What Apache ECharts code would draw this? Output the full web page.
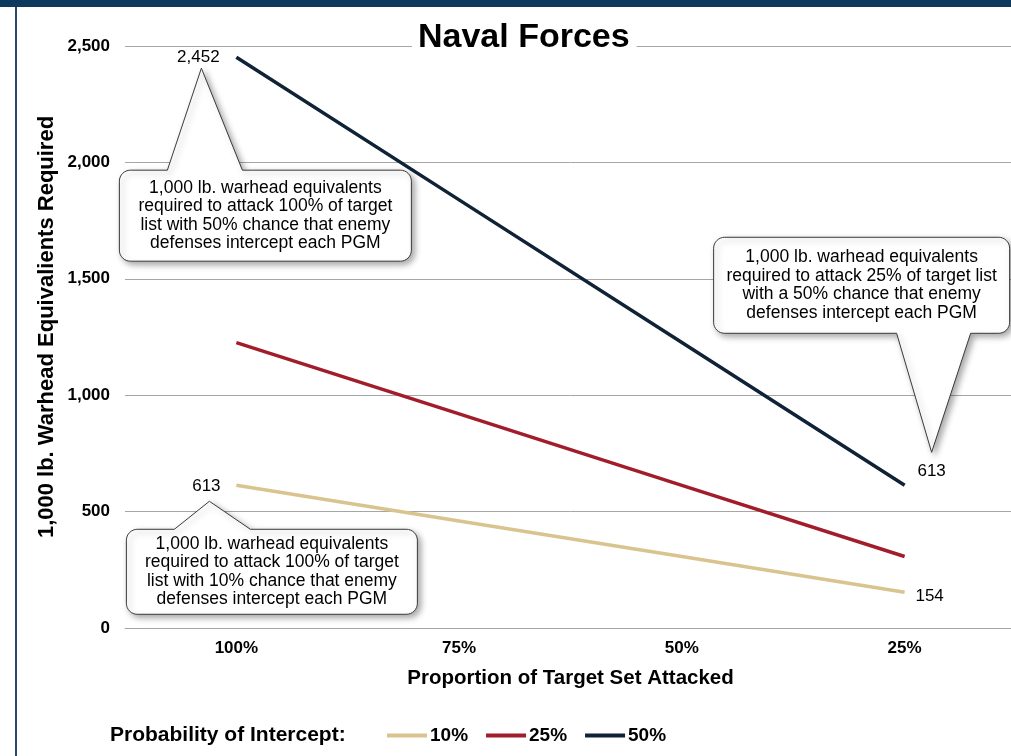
<!DOCTYPE html>
<html>
<head>
<meta charset="utf-8">
<title>Naval Forces</title>
<script src="https://cdn.jsdelivr.net/npm/echarts@6/dist/echarts.min.js"></script>
<style>
  html, body { margin: 0; padding: 0; background: #ffffff; overflow: hidden; width: 1011px; height: 756px; }
  /* the plot area runs a few pixels past the right edge of the page */
  #chart { width: 1020px; height: 756px; }
</style>
</head>
<body>
<div id="chart"></div>
<script>
// Proportion of the target set attacked (x axis categories)
const categories = ['100%', '75%', '50%', '25%'];
// 1,000 lb. warhead equivalents required, by probability of intercept
const intercept10 = [613, 460, 307, 154];
const intercept25 = [1226, 920, 613, 307];
const intercept50 = [2452, 1839, 1226, 613];
const seriesNames = ['10%', '25%', '50%'];
// Value axis ticks
const yMin = 0;
const yMax = 2500;
const yStep = 500;

const FONT = "'Liberation Sans', Arial, sans-serif";
const colors = ['#d9c48f', '#a21d2b', '#0f2236'];

const chart = echarts.init(document.getElementById('chart'), null, { renderer: 'canvas' });

const fmt = v => Number(v).toLocaleString('en-US');

chart.setOption({
  animation: false,
  backgroundColor: '#ffffff',
  title: {
    text: 'Naval Forces',
    left: 412,
    top: 21,
    padding: [0, 7, 0, 6],
    backgroundColor: '#ffffff',
    textStyle: { fontFamily: FONT, fontWeight: 'bold', fontSize: 34, color: '#000000', lineHeight: 34 },
    z: 10
  },
  grid: { left: 125, top: 46, width: 891, height: 582, containLabel: false },
  xAxis: {
    type: 'category',
    data: categories,
    boundaryGap: true,
    axisLine: { show: true, lineStyle: { color: '#a6a6a6', width: 1 } },
    axisTick: { show: false },
    axisLabel: { fontFamily: FONT, fontWeight: 'bold', fontSize: 17, color: '#000000', margin: 12 },
    name: 'Proportion of Target Set Attacked',
    nameLocation: 'middle',
    nameGap: 40,
    nameTextStyle: { fontFamily: FONT, fontWeight: 'bold', fontSize: 20.5, color: '#000000' }
  },
  yAxis: {
    type: 'value',
    min: yMin,
    max: yMax,
    interval: yStep,
    axisLine: { show: false },
    axisTick: { show: false },
    splitLine: { show: true, lineStyle: { color: '#a6a6a6', width: 1 } },
    axisLabel: { fontFamily: FONT, fontWeight: 'bold', fontSize: 17, color: '#000000', margin: 15, formatter: fmt }
  },
  legend: {
    left: 387,
    top: 726,
    padding: 0,
    itemWidth: 40,
    itemHeight: 4,
    itemGap: 18,
    icon: 'rect',
    data: seriesNames,
    textStyle: { fontFamily: FONT, fontWeight: 'bold', fontSize: 19, color: '#000000', padding: [0, 0, 0, -2] }
  },
  series: [
    { name: seriesNames[0], type: 'line', data: intercept10, showSymbol: false, lineStyle: { width: 3.5, color: colors[0] }, itemStyle: { color: colors[0] } },
    { name: seriesNames[1], type: 'line', data: intercept25, showSymbol: false, lineStyle: { width: 3.5, color: colors[1] }, itemStyle: { color: colors[1] } },
    { name: seriesNames[2], type: 'line', data: intercept50, showSymbol: false, lineStyle: { width: 3.5, color: colors[2] }, itemStyle: { color: colors[2] } }
  ]
});

// Quarter-circle corner points from angle a0 to a1 around (cx, cy)
function corner(cx, cy, r, a0, a1) {
  const pts = [];
  const steps = 8;
  for (let i = 0; i <= steps; i++) {
    const a = a0 + (a1 - a0) * i / steps;
    pts.push([cx + r * Math.cos(a), cy + r * Math.sin(a)]);
  }
  return pts;
}

// Rounded box with a pointer on its top or bottom edge, as polygon points
function calloutPoints(b) {
  const { x0, y0, x1, y1, r, side, bx0, bx1, tx, ty } = b;
  const P = Math.PI;
  let pts = [];
  pts = pts.concat(corner(x0 + r, y0 + r, r, P, 1.5 * P));
  if (side === 'top') pts.push([bx0, y0], [tx, ty], [bx1, y0]);
  pts = pts.concat(corner(x1 - r, y0 + r, r, 1.5 * P, 2 * P));
  pts = pts.concat(corner(x1 - r, y1 - r, r, 0, 0.5 * P));
  if (side === 'bottom') pts.push([bx1, y1], [tx, ty], [bx0, y1]);
  pts = pts.concat(corner(x0 + r, y1 - r, r, 0.5 * P, P));
  return pts;
}

// Callouts anchored on data points: offsets are relative to the point
const notes = [
  {
    series: 2, index: 0,
    label: [-38, 0],
    text: '1,000 lb. warhead equivalents\nrequired to attack 100% of target\nlist with 50% chance that enemy\ndefenses intercept each PGM',
    box: { dx0: -117, dx1: 175, dy0: 113, dy1: 204, side: 'top', bdx0: -69, bdx1: 6, tdx: -35, tdy: 11 }
  },
  {
    series: 2, index: 3,
    label: [27, -14],
    text: '1,000 lb. warhead equivalents\nrequired to attack 25% of target list\nwith a 50% chance that enemy\ndefenses intercept each PGM',
    box: { dx0: -191, dx1: 105, dy0: -248, dy1: -152, side: 'bottom', bdx0: -8, bdx1: 66, tdx: 27, tdy: -33 }
  },
  {
    series: 0, index: 0,
    label: [-30, 1],
    text: '1,000 lb. warhead equivalents\nrequired to attack 100% of target\nlist with 10% chance that enemy\ndefenses intercept each PGM',
    box: { dx0: -110, dx1: 181, dy0: 44, dy1: 129, side: 'top', bdx0: -62, bdx1: 14, tdx: -27, tdy: 16 }
  },
  {
    series: 0, index: 3,
    label: [25, 4]
  }
];

const seriesData = [intercept10, intercept25, intercept50];
const graphics = [
  { type: 'rect', shape: { x: 0, y: 0, width: 1020, height: 7 }, style: { fill: '#0b3a5e' }, z: 100 },
  { type: 'rect', shape: { x: 15, y: 7, width: 2, height: 749 }, style: { fill: '#27496d' }, z: 100 },
  {
    type: 'text', x: 47, y: 327, rotation: Math.PI / 2, z: 100,
    style: { text: '1,000 lb. Warhead Equivalients Required', font: `bold 22px ${FONT}`, fill: '#000000', align: 'center', verticalAlign: 'middle' }
  },
  {
    type: 'text', x: 110, y: 735, z: 100,
    style: { text: 'Probability of Intercept:', font: `bold 21px ${FONT}`, fill: '#000000', align: 'left', verticalAlign: 'middle' }
  }
];

notes.forEach(n => {
  const v = seriesData[n.series][n.index];
  const [px, py] = chart.convertToPixel({ gridIndex: 0 }, [n.index, v]);
  graphics.push({
    type: 'text', x: px + n.label[0], y: py + n.label[1], z: 120,
    style: { text: fmt(v), font: `17px ${FONT}`, fill: '#000000', align: 'center', verticalAlign: 'middle' }
  });
  if (!n.box) return;
  const b = n.box;
  const shape = {
    x0: px + b.dx0, x1: px + b.dx1, y0: py + b.dy0, y1: py + b.dy1, r: 11, side: b.side,
    bx0: px + b.bdx0, bx1: px + b.bdx1, tx: px + b.tdx, ty: py + b.tdy
  };
  graphics.push({
    type: 'polygon', z: 110,
    shape: { points: calloutPoints(shape) },
    style: {
      fill: '#ffffff', stroke: '#3a3a3a', lineWidth: 1,
      shadowBlur: 6, shadowOffsetX: 3, shadowOffsetY: 3, shadowColor: 'rgba(0,0,0,0.35)'
    }
  });
  graphics.push({
    type: 'text', z: 120,
    x: (shape.x0 + shape.x1) / 2, y: (shape.y0 + shape.y1) / 2,
    style: {
      text: n.text, font: `17.5px ${FONT}`, lineHeight: 18.5, fill: '#000000',
      align: 'center', verticalAlign: 'middle'
    }
  });
});

chart.setOption({ graphic: graphics });
</script>
</body>
</html>
